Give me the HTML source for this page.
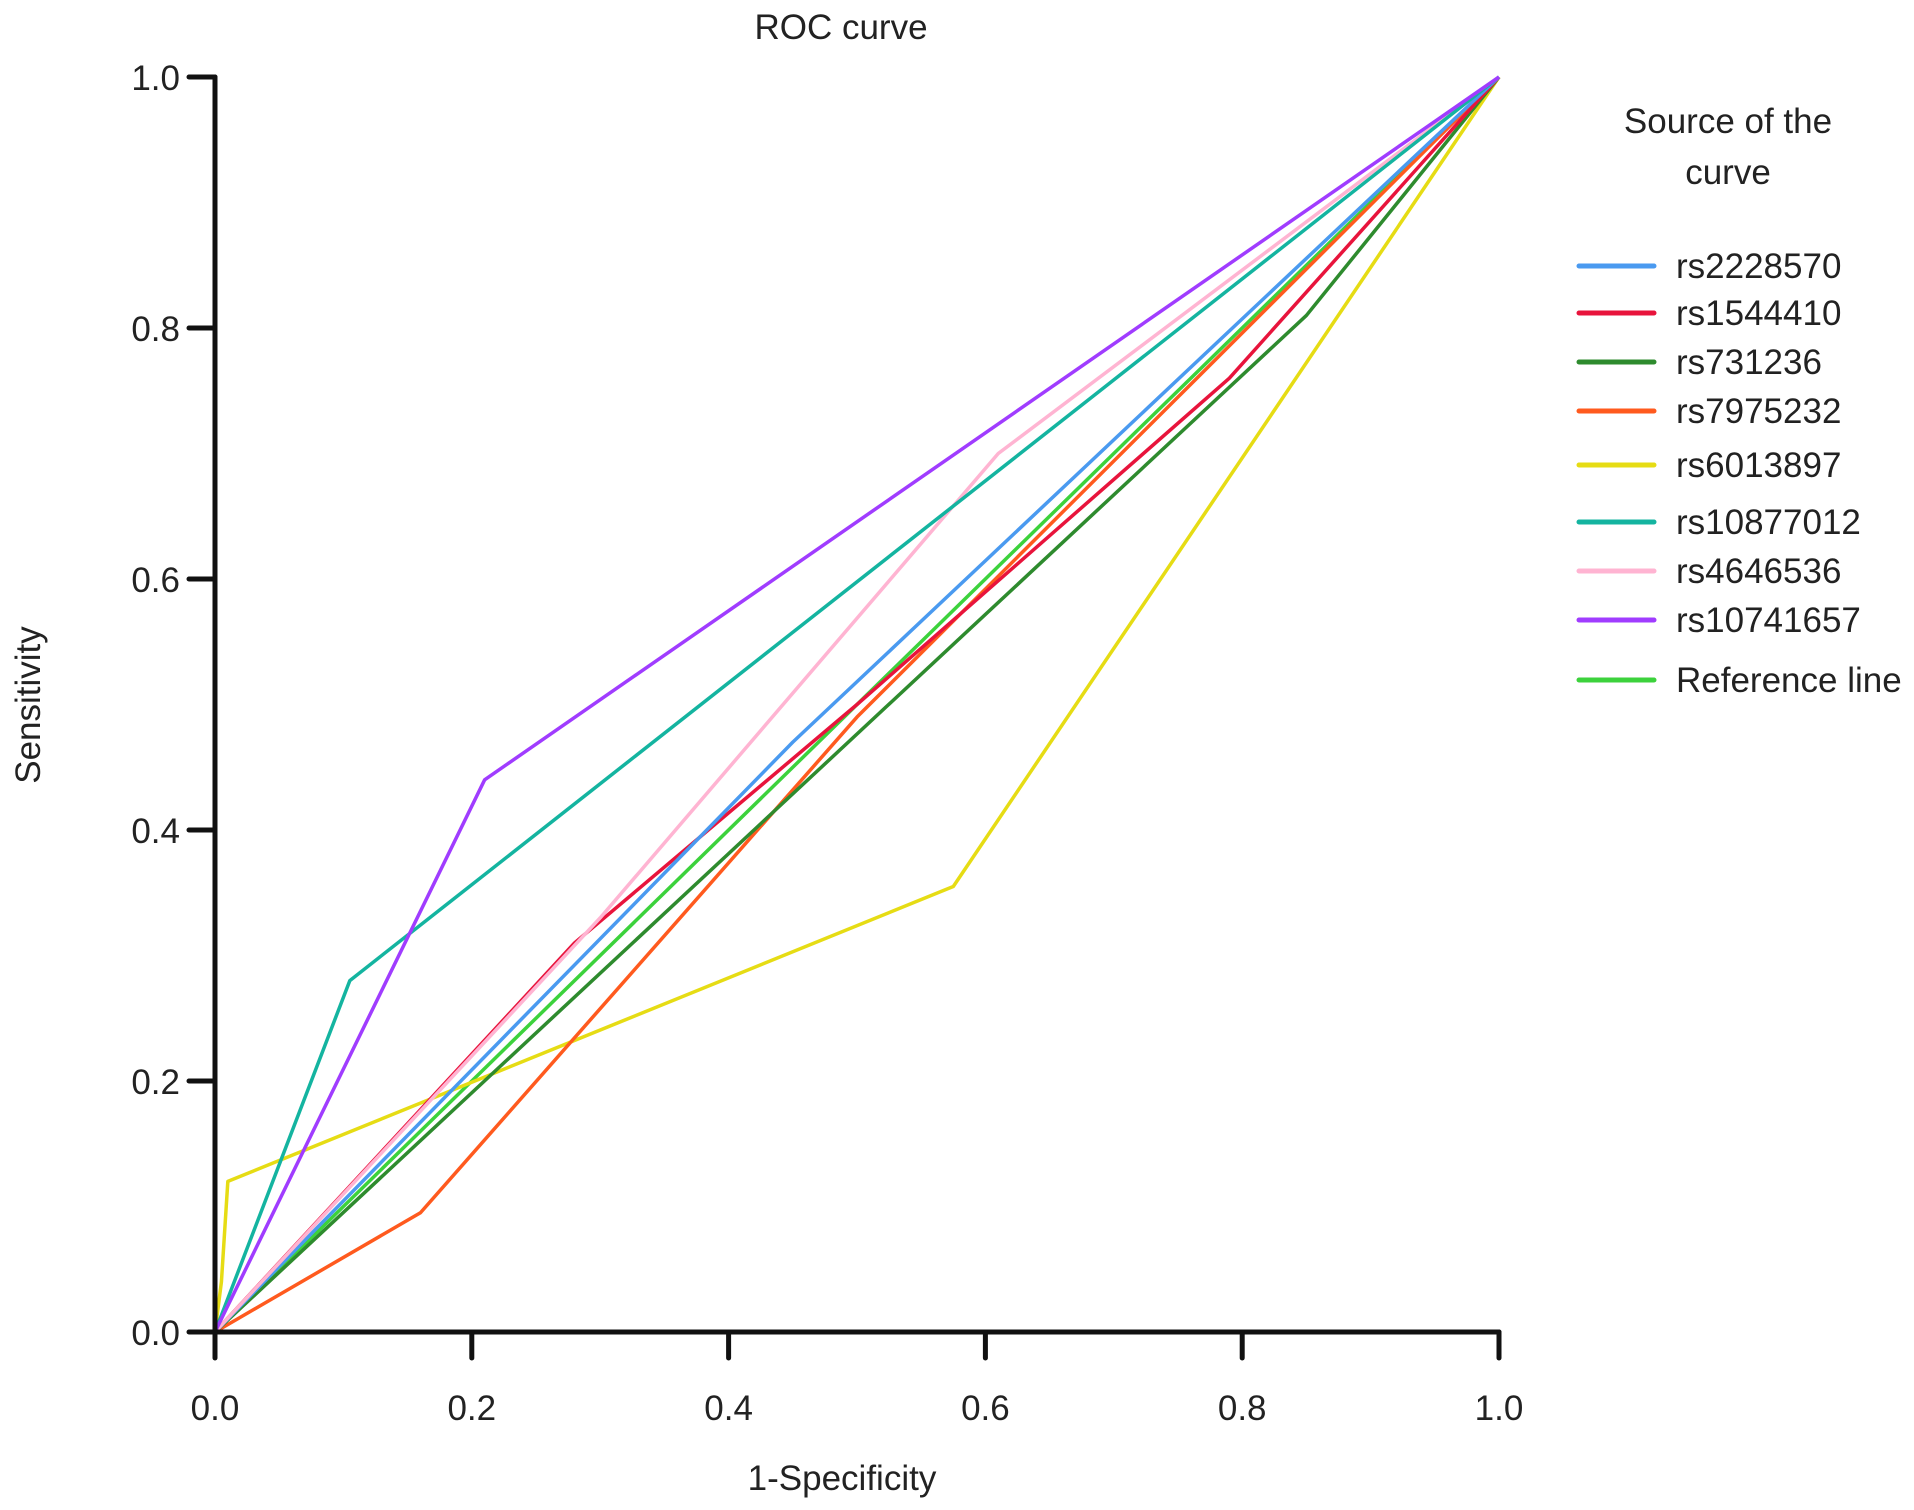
<!DOCTYPE html>
<html><head><meta charset="utf-8"><style>
html,body{margin:0;padding:0;background:#fff;}
svg{display:block;font-family:"Liberation Sans",sans-serif;}
</style></head><body>
<svg id="chart" width="1914" height="1510" viewBox="0 0 1914 1510">
<text x="841" y="39" font-size="35" text-anchor="middle" fill="#222">ROC curve</text>
<text x="842" y="1490" font-size="35" text-anchor="middle" fill="#222">1-Specificity</text>
<text transform="translate(40,705) rotate(-90)" font-size="35" text-anchor="middle" fill="#222">Sensitivity</text>
<g id="series"></g>
<g id="axes"></g>
<g id="legend">
<text x="1728" y="133" font-size="35" text-anchor="middle" fill="#222">Source of the</text>
<text x="1728" y="184" font-size="35" text-anchor="middle" fill="#222">curve</text>
</g>
</svg>
<script>
const seriesNames = ["rs2228570","rs1544410","rs731236","rs7975232","rs6013897","rs10877012","rs4646536","rs10741657","Reference line"];
const seriesColors = ["#4a9af0","#e8143c","#2e8b2e","#ff5a1e","#e6dc14","#14b4a0","#ffb4d2","#a03cff","#3cd23c"];
const xs0 = [0,0.45,1];            const ys0 = [0,0.47,1];
const xs1 = [0,0.28,0.5,0.79,1];   const ys1 = [0,0.31,0.5,0.76,1];
const xs2 = [0,0.85,1];            const ys2 = [0,0.81,1];
const xs3 = [0,0.16,0.5,1];        const ys3 = [0,0.095,0.49,1];
const xs4 = [0,0.005,0.01,0.575,1];const ys4 = [0,0.04,0.12,0.355,1];
const xs5 = [0,0.105,1];           const ys5 = [0,0.28,1];
const xs6 = [0,0.3,0.61,1];        const ys6 = [0,0.33,0.70,1];
const xs7 = [0,0.21,1];            const ys7 = [0,0.44,1];
const xs8 = [0,1];                 const ys8 = [0,1];
const xTicks = ["0.0","0.2","0.4","0.6","0.8","1.0"];
const yTicks = ["0.0","0.2","0.4","0.6","0.8","1.0"];
const xsAll=[xs0,xs1,xs2,xs3,xs4,xs5,xs6,xs7,xs8], ysAll=[ys0,ys1,ys2,ys3,ys4,ys5,ys6,ys7,ys8];
const X0=215,X1=1499,Y0=1332,Y1=77;
const sx=v=>X0+v*(X1-X0), sy=v=>Y0-v*(Y0-Y1);
const NS="http://www.w3.org/2000/svg";
const sg=document.getElementById('series'), ag=document.getElementById('axes'), lg=document.getElementById('legend');
const drawOrder=[8,4,3,2,1,0,6,5,7];
drawOrder.forEach(i=>{
  const p=document.createElementNS(NS,'polyline');
  p.setAttribute('points',xsAll[i].map((x,j)=>sx(x)+','+sy(ysAll[i][j])).join(' '));
  p.setAttribute('fill','none');p.setAttribute('stroke',seriesColors[i]);p.setAttribute('stroke-width','3.5');
  p.setAttribute('stroke-linejoin','round');
  
  
  sg.appendChild(p);
});
function ln(x1,y1,x2,y2,name){const l=document.createElementNS(NS,'line');l.setAttribute('x1',x1);l.setAttribute('y1',y1);l.setAttribute('x2',x2);l.setAttribute('y2',y2);l.setAttribute('stroke','#111');l.setAttribute('stroke-width','5');l.setAttribute('stroke-linecap','round');


ag.appendChild(l);}
function tx(x,y,s,anchor,name){const t=document.createElementNS(NS,'text');t.setAttribute('x',x);t.setAttribute('y',y);t.setAttribute('font-size','35');t.setAttribute('text-anchor',anchor);t.setAttribute('fill','#222');t.textContent=s;


return t;}
ln(X0,Y0,X1,Y0,'x-axis');ln(X0,Y0,X0,Y1,'y-axis');
xTicks.forEach((s,i)=>{const v=i/(xTicks.length-1);ln(sx(v),Y0,sx(v),1358,'x-tick');ag.appendChild(tx(sx(v),1420,s,'middle','x-tick-label'));});
yTicks.forEach((s,i)=>{const v=i/(yTicks.length-1);ln(189,sy(v),X0,sy(v),'y-tick');ag.appendChild(tx(180,sy(v)+13,s,'end','y-tick-label'));});
const legendY=[266,313,362,411,465,522,571,620,680];
seriesNames.forEach((n,i)=>{
  const l=document.createElementNS(NS,'line');
  l.setAttribute('x1',1579);l.setAttribute('x2',1654);l.setAttribute('y1',legendY[i]);l.setAttribute('y2',legendY[i]);
  l.setAttribute('stroke',seriesColors[i]);l.setAttribute('stroke-width','5');l.setAttribute('stroke-linecap','round');
  
  
  lg.appendChild(l);
  const t=tx(1676,legendY[i]+12,n,'start','legend-label');
  lg.appendChild(t);
});
</script>
</body></html>
